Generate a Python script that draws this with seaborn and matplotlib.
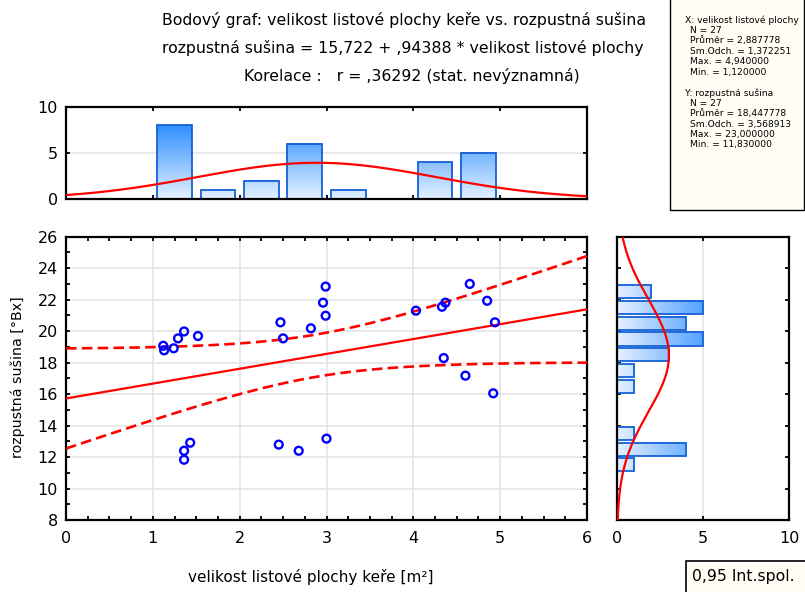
import numpy as np
import matplotlib
matplotlib.use("Agg")
import matplotlib.pyplot as plt
from matplotlib.colors import LinearSegmentedColormap
from matplotlib.patches import Rectangle
from matplotlib.ticker import MultipleLocator
import seaborn as sns

# --- data: leaf area of the shrub [m2] and soluble solids [°Bx] ---
leaf_area = [1.12, 1.13, 1.24, 1.29, 1.36, 1.52, 1.36, 1.36, 1.43,
             2.47, 2.50, 2.45, 2.68, 2.82, 2.96, 2.99, 2.99, 3.00,
             4.03, 4.33, 4.37, 4.65, 4.85, 4.94, 4.35, 4.60, 4.92]
soluble_solids = [19.07, 18.78, 18.91, 19.54, 19.98, 19.69, 12.40, 11.83, 12.91,
                  20.56, 19.54, 12.79, 12.40, 20.18, 21.81, 22.83, 20.98, 13.17,
                  21.30, 21.55, 21.81, 23.00, 21.93, 20.56, 18.29, 17.17, 16.05]

# --- summary statistics ---
n_obs = 27
intercept, slope = 15.722, 0.94388
r_value = 0.36292
x_mean, x_sd, x_max, x_min = 2.887778, 1.372251, 4.940000, 1.120000
y_mean, y_sd, y_max, y_min = 18.447778, 3.568913, 23.000000, 11.830000
t_crit = 2.0595  # Student t, 0.975 quantile, 25 df

title_lines = [
    "Bodový graf: velikost listové plochy keře vs. rozpustná sušina",
    "rozpustná sušina = 15,722 + ,94388 * velikost listové plochy",
    "Korelace :   r = ,36292 (stat. nevýznamná)",
]
x_label = "velikost listové plochy keře [m²]"
y_label = "rozpustná sušina [°Bx]"
stats_x = ["X: velikost listové plochy", "N = 27", "Průměr = 2,887778",
           "Sm.Odch. = 1,372251", "Max. = 4,940000", "Min. = 1,120000"]
stats_y = ["Y: rozpustná sušina", "N = 27", "Průměr = 18,447778",
           "Sm.Odch. = 3,568913", "Max. = 23,000000", "Min. = 11,830000"]
legend_text = "0,95 Int.spol."

x_bins = np.arange(0, 6.5, 0.5)
y_bins = np.arange(11, 24, 1)

# --- styling ---
sns.set_style("ticks")
plt.rcParams["font.family"] = ["DejaVu Sans"]
for key in ("text.color", "axes.labelcolor", "xtick.color", "ytick.color",
            "axes.edgecolor"):
    plt.rcParams[key] = "black"

W, H = 805, 592
fig = plt.figure(figsize=(W / 100, H / 100), dpi=100)
fig.patch.set_facecolor("white")


def px_axes(left, top, right, bottom):
    return fig.add_axes([left / W, 1 - bottom / H, (right - left) / W, (bottom - top) / H])


ax_main = px_axes(66, 236.7, 587, 520)
ax_top = px_axes(66, 106.7, 587, 199)
ax_right = px_axes(617, 236.7, 789, 520)

grid_color = "#e2e2e2"
red = "#ff0000"
blue = "#0000ff"
bar_edge = "#1560d8"
bar_cmap = LinearSegmentedColormap.from_list("bar", ["#e4f1ff", "#2a8cff"])

tick_kw = dict(which="both", direction="in", length=3.2, width=1.3,
               colors="black", labelsize=11.5, top=True, right=True)

for ax in (ax_main, ax_top, ax_right):
    for sp in ax.spines.values():
        sp.set_linewidth(1.6)
        sp.set_color("black")
        sp.set_visible(True)
    ax.set_axisbelow(True)

# --- main scatter ---
sns.scatterplot(x=leaf_area, y=soluble_solids, ax=ax_main, marker="o", s=32,
                color=blue, edgecolor=blue, linewidth=1.7, zorder=4)
for coll in ax_main.collections:
    coll.set_facecolor("none")

xs = np.linspace(0, 6, 300)
fit = intercept + slope * xs
s_res = y_sd * np.sqrt((1 - r_value ** 2) * (n_obs - 1) / (n_obs - 2))
sxx = x_sd ** 2 * (n_obs - 1)
half = t_crit * s_res * np.sqrt(1 / n_obs + (xs - x_mean) ** 2 / sxx)

sns.lineplot(x=xs, y=fit, ax=ax_main, color=red, linewidth=1.6, zorder=3)
for band in (fit + half, fit - half):
    sns.lineplot(x=xs, y=band, ax=ax_main, color=red, linewidth=1.9, zorder=3)
    ax_main.lines[-1].set_dashes((4, 2))

ax_main.set_xlim(0, 6)
ax_main.set_ylim(8, 26)
ax_main.set_xticks(range(0, 7))
ax_main.set_yticks(range(8, 27, 2))
ax_main.xaxis.set_minor_locator(MultipleLocator(0.25))
ax_main.yaxis.set_minor_locator(MultipleLocator(1))
ax_main.tick_params(**tick_kw)
ax_main.tick_params(axis="x", pad=8)
ax_main.tick_params(axis="y", pad=6)
ax_main.grid(True, which="major", color=grid_color, linewidth=1.1)
ax_main.set_xlabel("")
ax_main.set_ylabel("")


def gradient_bars(ax, horizontal, vmax):
    for patch in list(ax.patches):
        x0, y0 = patch.get_x(), patch.get_y()
        w, h = patch.get_width(), patch.get_height()
        if w <= 0 or h <= 0:
            patch.set_visible(False)
            continue
        if horizontal:
            vals = np.linspace(x0, x0 + w, 64)[None, :]
        else:
            vals = np.linspace(y0, y0 + h, 64)[:, None]
        ax.imshow(vals, extent=(x0, x0 + w, y0, y0 + h), origin="lower",
                  cmap=bar_cmap, vmin=0, vmax=vmax, aspect="auto",
                  interpolation="bilinear", zorder=1.5)
        patch.set_facecolor("none")
        patch.set_zorder(2)


# --- top histogram of X ---
sns.histplot(x=leaf_area, bins=x_bins, shrink=0.8, ax=ax_top, stat="count",
             color="#7fbfff", edgecolor=bar_edge, linewidth=1.3, alpha=1)
gradient_bars(ax_top, horizontal=False, vmax=8.3)
xn = np.linspace(0, 6, 300)
norm_x = n_obs * 0.5 * np.exp(-0.5 * ((xn - x_mean) / x_sd) ** 2) / (x_sd * np.sqrt(2 * np.pi))
sns.lineplot(x=xn, y=norm_x, ax=ax_top, color=red, linewidth=1.6, zorder=3)
ax_top.set_xlim(0, 6)
ax_top.set_ylim(0, 10)
ax_top.set_xticks(range(0, 7))
ax_top.set_yticks([0, 5, 10])
ax_top.tick_params(**tick_kw)
ax_top.tick_params(axis="x", labelbottom=False)
ax_top.tick_params(axis="y", pad=6)
ax_top.yaxis.grid(True, color=grid_color, linewidth=1.1)
ax_top.xaxis.grid(False)
ax_top.set_xlabel("")
ax_top.set_ylabel("")

# --- right histogram of Y ---
sns.histplot(y=soluble_solids, bins=y_bins, shrink=0.83, ax=ax_right, stat="count",
             color="#7fbfff", edgecolor=bar_edge, linewidth=1.3, alpha=1)
gradient_bars(ax_right, horizontal=True, vmax=6.5)
yn = np.linspace(8, 26, 300)
norm_y = n_obs * 1.0 * np.exp(-0.5 * ((yn - y_mean) / y_sd) ** 2) / (y_sd * np.sqrt(2 * np.pi))
sns.lineplot(x=norm_y, y=yn, ax=ax_right, color=red, linewidth=1.6, orient="y",
             sort=False, zorder=3)
ax_right.set_xlim(0, 10)
ax_right.set_ylim(8, 26)
ax_right.set_xticks([0, 5, 10])
ax_right.set_yticks(range(8, 27, 2))
ax_right.tick_params(**tick_kw)
ax_right.tick_params(axis="y", labelleft=False)
ax_right.tick_params(axis="x", pad=8)
ax_right.xaxis.grid(True, color=grid_color, linewidth=1.1)
ax_right.yaxis.grid(False)
ax_right.set_xlabel("")
ax_right.set_ylabel("")

# --- titles and axis labels ---
title_pos = [(404, 20), (403, 48), (412, 76)]
for txt, (tx, ty) in zip(title_lines, title_pos):
    fig.text(tx / W, 1 - ty / H, txt, ha="center", va="center", fontsize=11.3,
             color="black")

fig.text(311 / W, 1 - 577 / H, x_label, ha="center", va="center", fontsize=11,
         color="black")
fig.text(18 / W, 1 - 377 / H, y_label, ha="center", va="center", rotation=90,
         fontsize=10.2, color="black")

# --- descriptive statistics box ---
fig.patches.append(Rectangle((670 / W, 1 - 210 / H), 134 / W, 212 / H,
                             transform=fig.transFigure, facecolor="#fffdf4",
                             edgecolor="black", linewidth=1.0, zorder=0))
line_step = 10.4
for block, y_start in ((stats_x, 20), (stats_y, 93)):
    for i, line in enumerate(block):
        lx = 685 if i == 0 else 690
        fig.text(lx / W, 1 - (y_start + i * line_step) / H, line, ha="left",
                 va="center", fontsize=6.6, color="black")

# --- confidence interval legend ---
fig.patches.append(Rectangle((686 / W, -0.01), 125 / W, 31 / H + 0.01,
                             transform=fig.transFigure, facecolor="#fffdf4",
                             edgecolor="black", linewidth=1.2, zorder=0))
fig.text(692 / W, 1 - 577 / H, legend_text, ha="left", va="center", fontsize=11.3,
         color="black")

fig.savefig("out.png", dpi=100)
